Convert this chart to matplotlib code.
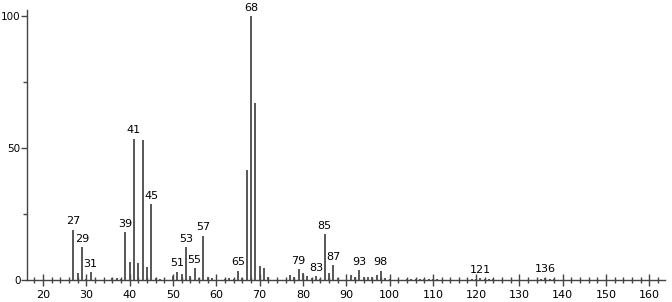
import numpy as np
import matplotlib
matplotlib.use('Agg')
import matplotlib.pyplot as plt
from matplotlib.ticker import MultipleLocator

# m/z and relative intensity
mz = [27, 28, 29, 30, 31, 36, 37, 38, 39, 40, 41, 42, 43, 44, 45, 46, 47,
      50, 51, 52, 53, 54, 55, 56, 57, 58, 59, 62, 63, 64, 65, 66, 67, 68, 69,
      70, 71, 72, 77, 78, 79, 80, 81, 82, 83, 84, 85, 86, 87, 88,
      91, 92, 93, 94, 95, 96, 97, 98, 99, 100,
      104, 105, 106, 107, 108, 109, 110, 111,
      119, 120, 121, 122, 123, 124, 135, 136, 137, 138]
intensity = [19.0, 2.7, 12.5, 0.4, 3.0, 0.6, 0.6, 0.4, 18.2, 6.8, 53.5, 6.4, 53.0, 5.0, 28.8, 0.8, 0.4,
             1.5, 3.2, 2.3, 12.5, 1.5, 4.5, 0.8, 16.7, 1.2, 0.8, 0.5, 0.8, 0.5, 3.5, 0.6, 41.7, 100.0, 67.0,
             5.4, 4.5, 1.0, 2.0, 1.0, 4.0, 2.5, 1.5, 0.8, 1.5, 0.5, 17.4, 2.5, 5.6, 0.8,
             1.8, 1.0, 3.8, 1.2, 1.0, 1.0, 1.8, 3.5, 0.8, 0.3,
             0.3, 0.4, 0.4, 0.5, 0.4, 0.4, 0.5, 0.4,
             0.3, 0.4, 0.7, 0.5, 0.4, 0.3, 0.4, 0.8, 0.4, 0.3]
labeled = [27, 29, 31, 39, 41, 45, 51, 53, 55, 57, 65, 68, 79, 83, 85, 87, 93, 98, 121, 136]

fig = plt.figure(figsize=(6.72, 3.02), dpi=100)
ax = fig.add_axes([27/672, 22/302, 638/672, 270/302])

ax.vlines(mz, 0, intensity, colors='#4a4a4a', linewidth=1.3)

peaks = dict(zip(mz, intensity))
for m in labeled:
    ax.text(m, peaks[m] + 1.3, str(m), ha='center', va='bottom', fontsize=8, color='black')

ax.set_xlim(16.3, 163.6)
ax.set_ylim(0, 102.3)

ax.spines['top'].set_visible(False)
ax.spines['right'].set_visible(False)
for s in ['left', 'bottom']:
    ax.spines[s].set_color('#444444')
    ax.spines[s].set_linewidth(1.0)

ax.xaxis.set_major_locator(MultipleLocator(10))
ax.xaxis.set_minor_locator(MultipleLocator(2))
ax.yaxis.set_major_locator(MultipleLocator(50))
ax.yaxis.set_minor_locator(MultipleLocator(25))
ax.tick_params(axis='x', which='major', direction='inout', length=8, width=1, colors='#444444',
               labelcolor='black', labelsize=8, pad=3)
ax.tick_params(axis='x', which='minor', direction='inout', length=4, width=1, colors='#444444')
ax.tick_params(axis='y', which='major', direction='out', length=4, width=1, colors='#444444',
               labelcolor='black', labelsize=7.5, pad=0.5)
ax.tick_params(axis='y', which='minor', direction='out', length=3, width=1, colors='#444444')

fig.savefig('out.png', dpi=100)
